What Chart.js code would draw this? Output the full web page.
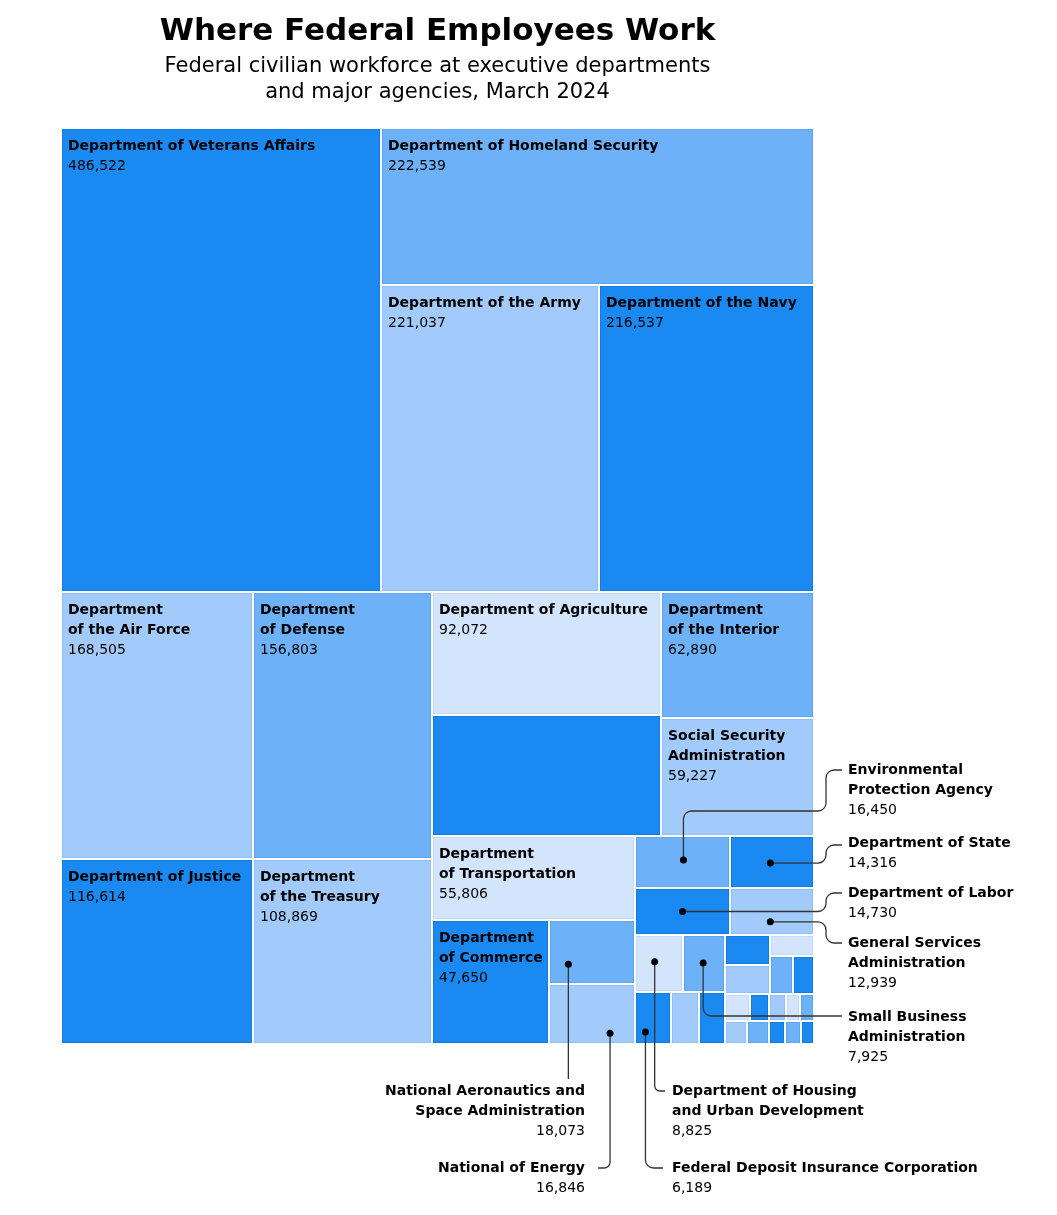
<!DOCTYPE html>
<html>
<head>
<meta charset="utf-8">
<title>Where Federal Employees Work</title>
<script src="https://cdn.jsdelivr.net/npm/chart.js@4.4.1/dist/chart.umd.min.js"></script>
<style>
html, body { margin: 0; padding: 0; background: #fff; }
</style>
</head>
<body>
<canvas id="treemapChart" width="1057" height="1215"></canvas>
<script>
// ================================
// DATA (sorted by workforce, largest first)
// ================================

const agencies = [
  'Department of Veterans Affairs', 'Department of Homeland Security', 'Department of the Army',
  'Department of the Navy', 'Department of the Air Force', 'Department of Defense',
  'Department of Justice', 'Department of the Treasury', 'Department of Agriculture',
  'Department of Health and Human Services', 'Department of the Interior',
  'Social Security Administration', 'Department of Transportation', 'Department of Commerce',
  'National Aeronautics and Space Administration', 'National of Energy',
  'Environmental Protection Agency', 'Department of Labor', 'Department of State',
  'General Services Administration', 'Department of Housing and Urban Development',
  'Small Business Administration', 'Federal Deposit Insurance Corporation',
  'Other agency 1', 'Other agency 2', 'Other agency 3', 'Other agency 4', 'Other agency 5',
  'Other agency 6', 'Other agency 7', 'Other agency 8', 'Other agency 9', 'Other agency 10',
  'Other agency 11', 'Other agency 12', 'Other agency 13', 'Other agency 14',
  'Other agency 15', 'Other agency 16', 'Other agency 17'
];

const employees = [
  486522, 222539, 221037, 216537, 168505, 156803, 116614, 108869, 92072,
  90900, 62890, 59227, 55806, 47650, 18073, 16846, 16450, 14730, 14316,
  12939, 8825, 7925, 6189,
  4780, 4610, 4350, 4250, 2960, 2910, 2660, 2170, 1690, 1650, 1640,
  1510, 1240, 1235, 1200, 1190, 1020
];

// shade per cell: 0 dark, 1 medium, 2 light, 3 lightest
const shadeIndex = [
  0, 1, 2, 0, 2, 1, 0, 2, 3, 0, 1, 2, 3, 0, 1, 2, 1, 0, 0, 2, 3, 1, 0,
  2, 0, 0, 2, 3, 1, 0, 3, 0, 2, 1, 2, 3, 1, 0, 1, 0
];

// text written inside the big cells
const cellLabels = {
  'Department of Veterans Affairs': ['Department of Veterans Affairs'],
  'Department of Homeland Security': ['Department of Homeland Security'],
  'Department of the Army': ['Department of the Army'],
  'Department of the Navy': ['Department of the Navy'],
  'Department of the Air Force': ['Department', 'of the Air Force'],
  'Department of Defense': ['Department', 'of Defense'],
  'Department of Justice': ['Department of Justice'],
  'Department of the Treasury': ['Department', 'of the Treasury'],
  'Department of Agriculture': ['Department of Agriculture'],
  'Department of the Interior': ['Department', 'of the Interior'],
  'Social Security Administration': ['Social Security', 'Administration'],
  'Department of Transportation': ['Department', 'of Transportation'],
  'Department of Commerce': ['Department', 'of Commerce']
};

// labels placed outside, joined to their cell by a leader line
const callouts = [
  { name: 'Environmental Protection Agency', lines: ['Environmental', 'Protection Agency'],
    dot: [0.51, 0.46], path: [[null, 811], [826, 811], [826, 770], [842, 770]],
    text: [848, 770], align: 'left' },
  { name: 'Department of State', lines: ['Department of State'],
    dot: [0.48, 0.52], path: [[826, null], [826, 845], [842, 845]],
    text: [848, 843], align: 'left' },
  { name: 'Department of Labor', lines: ['Department of Labor'],
    dot: [0.5, 0.5], path: [[826, null], [826, 893], [842, 893]],
    text: [848, 893], align: 'left' },
  { name: 'General Services Administration', lines: ['General Services', 'Administration'],
    dot: [0.48, 0.72], path: [[826, null], [826, 943], [842, 943]],
    text: [848, 943], align: 'left' },
  { name: 'Small Business Administration', lines: ['Small Business', 'Administration'],
    dot: [0.48, 0.49], path: [[null, 1016], [842, 1016]],
    text: [848, 1017], align: 'left' },
  { name: 'National Aeronautics and Space Administration', lines: ['National Aeronautics and', 'Space Administration'],
    dot: [0.225, 0.69], path: [[null, 1079]],
    text: [585, 1091], align: 'right' },
  { name: 'National of Energy', lines: ['National of Energy'],
    dot: [0.71, 0.82], path: [[null, 1168], [598, 1168]],
    text: [585, 1168], align: 'right' },
  { name: 'Department of Housing and Urban Development', lines: ['Department of Housing', 'and Urban Development'],
    dot: [0.41, 0.47], path: [[null, 1091], [665, 1091]],
    text: [672, 1091], align: 'left' },
  { name: 'Federal Deposit Insurance Corporation', lines: ['Federal Deposit Insurance Corporation'],
    dot: [0.29, 0.77], path: [[null, 1168], [663, 1168]],
    text: [672, 1168], align: 'left' }
];

const shadeFill = ['#1a8af2', '#6db2f9', '#a2cbfb', '#d3e5fd'];
const shadeEdge = ['#127ce0', '#5fa6f0', '#94bff3', '#c5dbf6'];
const FONT = "'DejaVu Sans', sans-serif";

// ================================
// BINARY TREEMAP LAYOUT (unit square, aspect = width / height)
// ================================

function binaryLayout(values, aspect) {
  const sums = [0];
  values.forEach(v => sums.push(sums[sums.length - 1] + v));
  const out = [];

  function part(i, j, value, x0, y0, x1, y1) {
    if (i >= j - 1) { out[i] = { x0, y0, x1, y1 }; return; }
    const target = value / 2 + sums[i];
    let k = i + 1, hi = j - 1;
    while (k < hi) {
      const mid = (k + hi) >>> 1;
      if (sums[mid] < target) k = mid + 1; else hi = mid;
    }
    if ((target - sums[k - 1]) < (sums[k] - target) && i + 1 < k) --k;
    const vl = sums[k] - sums[i], vr = value - vl;
    if ((x1 - x0) * aspect > (y1 - y0)) {
      const xk = (x0 * vr + x1 * vl) / value;
      part(i, k, vl, x0, y0, xk, y1);
      part(k, j, vr, xk, y0, x1, y1);
    } else {
      const yk = (y0 * vr + y1 * vl) / value;
      part(i, k, vl, x0, y0, x1, yk);
      part(k, j, vr, x0, yk, x1, y1);
    }
  }

  part(0, values.length, sums[values.length], 0, 0, 1, 1);
  return out;
}

const fmt = v => v.toLocaleString('en-US');

function roundedPath(ctx, pts, r) {
  ctx.beginPath();
  ctx.moveTo(pts[0][0], pts[0][1]);
  for (let i = 1; i < pts.length - 1; i++) {
    const a = pts[i - 1], b = pts[i], c = pts[i + 1];
    const l1 = Math.hypot(b[0] - a[0], b[1] - a[1]);
    const l2 = Math.hypot(c[0] - b[0], c[1] - b[1]);
    ctx.arcTo(b[0], b[1], c[0], c[1], Math.min(r, l1 / 2, l2 / 2));
  }
  const last = pts[pts.length - 1];
  ctx.lineTo(last[0], last[1]);
  ctx.stroke();
}

// ================================
// TREEMAP PLUGIN (draws cells through the x / y scales)
// ================================

const treemapPlugin = {
  id: 'treemap',
  afterDatasetsDraw(chart) {
    const { ctx, chartArea, scales: { x, y } } = chart;
    const rects = binaryLayout(employees, chartArea.width / chartArea.height);
    const boxes = rects.map(r => ({
      l: Math.round(x.getPixelForValue(r.x0)),
      r: Math.round(x.getPixelForValue(r.x1)),
      t: Math.round(y.getPixelForValue(r.y0)),
      b: Math.round(y.getPixelForValue(r.y1))
    }));

    ctx.save();
    boxes.forEach((bx, i) => {
      const s = shadeIndex[i];
      ctx.fillStyle = shadeFill[s];
      ctx.fillRect(bx.l + 1, bx.t + 1, bx.r - bx.l - 2, bx.b - bx.t - 2);
      ctx.strokeStyle = shadeEdge[s];
      ctx.lineWidth = 1;
      ctx.strokeRect(bx.l + 1.5, bx.t + 1.5, bx.r - bx.l - 3, bx.b - bx.t - 3);
    });

    // labels inside cells
    ctx.textBaseline = 'middle';
    ctx.textAlign = 'left';
    ctx.fillStyle = '#000';
    agencies.forEach((name, i) => {
      const lines = cellLabels[name];
      if (!lines) return;
      const bx = boxes[i];
      let ty = bx.t + 18;
      ctx.font = 'bold 14px ' + FONT;
      lines.forEach(line => { ctx.fillText(line, bx.l + 7, ty); ty += 20; });
      ctx.font = '14px ' + FONT;
      ctx.fillText(fmt(employees[i]), bx.l + 7, ty);
    });

    // leader lines and outside labels
    callouts.forEach(c => {
      const i = agencies.indexOf(c.name);
      const bx = boxes[i];
      const dx = bx.l + (bx.r - bx.l) * c.dot[0];
      const dy = bx.t + (bx.b - bx.t) * c.dot[1];
      const pts = [[dx, dy]].concat(c.path.map(p => [p[0] === null ? dx : p[0], p[1] === null ? dy : p[1]]));
      ctx.strokeStyle = '#333';
      ctx.lineWidth = 1.3;
      roundedPath(ctx, pts, 8);
      ctx.fillStyle = '#000';
      ctx.beginPath();
      ctx.arc(dx, dy, 3.5, 0, Math.PI * 2);
      ctx.fill();

      ctx.textAlign = c.align;
      let ty = c.text[1];
      ctx.font = 'bold 14px ' + FONT;
      c.lines.forEach(line => { ctx.fillText(line, c.text[0], ty); ty += 20; });
      ctx.font = '14px ' + FONT;
      ctx.fillText(fmt(employees[i]), c.text[0], ty);
    });
    ctx.restore();
  }
};

// ================================
// CHART
// ================================

Chart.defaults.font.family = FONT;

const treemapChart = new Chart(
document.getElementById('treemapChart'),
{
type: 'scatter',

data: {
  labels: agencies,
  datasets: [{ label: 'Employees', data: [] }]
},

options: {
  responsive: false,
  animation: false,
  devicePixelRatio: 1,
  layout: { padding: { left: 61, right: 243, top: 0, bottom: 171 } },
  scales: {
    x: { type: 'linear', min: 0, max: 1, display: false },
    y: { type: 'linear', min: 0, max: 1, reverse: true, display: false }
  },
  plugins: {
    legend: { display: false },
    tooltip: { enabled: false },
    title: {
      display: true,
      text: 'Where Federal Employees Work',
      color: '#000',
      font: { size: 31, weight: 'bold', lineHeight: 1.2 },
      padding: { top: 13, bottom: 0 }
    },
    subtitle: {
      display: true,
      text: ['Federal civilian workforce at executive departments', 'and major agencies, March 2024'],
      color: '#000',
      font: { size: 21, lineHeight: 1.24 },
      padding: { top: 3, bottom: 23 }
    }
  }
},

plugins: [treemapPlugin]

});
</script>
</body>
</html>
